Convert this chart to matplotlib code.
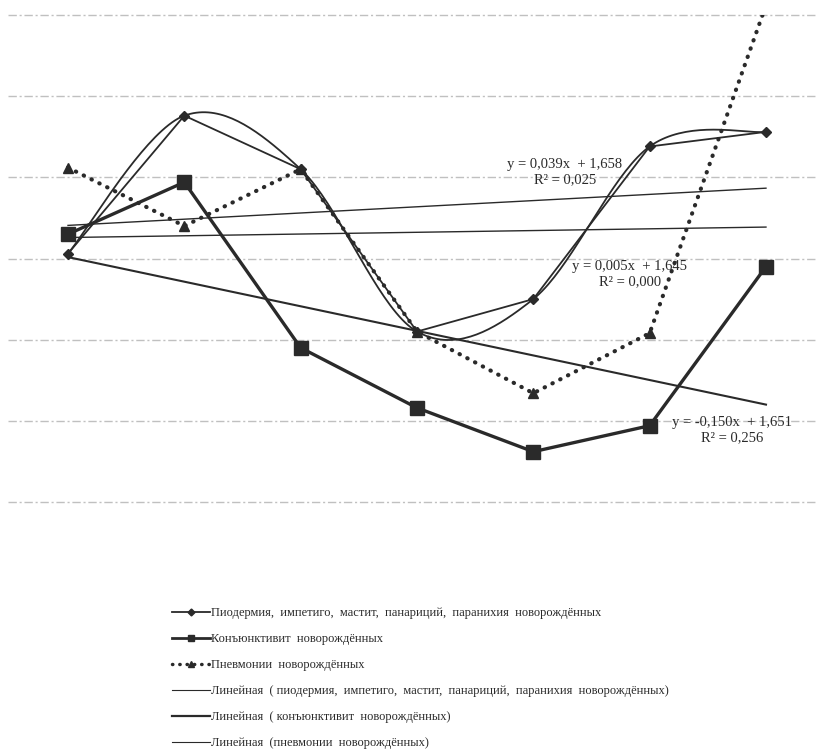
import numpy as np
import matplotlib
matplotlib.use("Agg")
import matplotlib.pyplot as plt
from matplotlib.lines import Line2D

plt.rcParams['font.family'] = ['Liberation Serif', 'DejaVu Serif']

# ---- data ----
periods = [1, 2, 3, 4, 5, 6, 7]
pyoderma = [1.53, 2.38, 2.05, 1.05, 1.25, 2.19, 2.28]
conjunctivitis = [1.65, 1.97, 0.95, 0.58, 0.31, 0.47, 1.45]
pneumonia = [2.06, 1.70, 2.05, 1.05, 0.67, 1.04, 3.06]
grid_values = [0.0, 0.5, 1.0, 1.5, 2.0, 2.5, 3.0]

labels = [
    "Пиодермия,  импетиго,  мастит,  панариций,  паранихия  новорождённых",
    "Конъюнктивит  новорождённых",
    "Пневмонии  новорождённых",
    "Линейная  ( пиодермия,  импетиго,  мастит,  панариций,  паранихия  новорождённых)",
    "Линейная  ( конъюнктивит  новорождённых)",
    "Линейная  (пневмонии  новорождённых)",
]
eq_pyoderma = "y = 0,039x  + 1,658\nR² = 0,025"
eq_pneumonia = "y = 0,005x  + 1,645\nR² = 0,000"
eq_conjunct = "y = -0,150x  + 1,651\nR² = 0,256"

C = "#2a2a2a"


def catmull(xs, ys, n=40):
    pts = np.column_stack([xs, ys]).astype(float)
    out = []
    for i in range(len(pts) - 1):
        p0 = pts[i - 1] if i > 0 else pts[i]
        p1 = pts[i]
        p2 = pts[i + 1]
        p3 = pts[i + 2] if i + 2 < len(pts) else pts[i + 1]
        b1 = p1 + (p2 - p0) / 6.0
        b2 = p2 - (p3 - p1) / 6.0
        t = np.linspace(0, 1, n)[:, None]
        seg = ((1 - t) ** 3) * p1 + 3 * ((1 - t) ** 2) * t * b1 + 3 * (1 - t) * t ** 2 * b2 + t ** 3 * p2
        out.append(seg if i == 0 else seg[1:])
    seg = np.vstack(out)
    return seg[:, 0], seg[:, 1]


fig = plt.figure(figsize=(8.18, 7.55), dpi=100)
ax = fig.add_axes([8 / 818, 1 - 502 / 755, 810 / 818, 487 / 755])
ax.set_xlim(1 - 60 / 116.33, 1 + 750 / 116.33)
ax.set_ylim(0, 3.0)
ax.axis('off')

for g in grid_values:
    ax.axhline(g, color="#c0c0c0", lw=1.0, linestyle=(0, (6, 2, 1.5, 2)), clip_on=False, zorder=0)

x = np.array(periods, dtype=float)

# trend lines
for ys, lw in [(pyoderma, 1.0), (conjunctivitis, 1.5), (pneumonia, 1.0)]:
    k, b = np.polyfit(x, ys, 1)
    ax.plot([x[0], x[-1]], [k * x[0] + b, k * x[-1] + b], color=C, lw=lw, zorder=2)

# pyoderma smooth + straight
sx, sy = catmull(x, pyoderma)
ax.plot(sx, sy, color=C, lw=1.3, zorder=3)
ax.plot(x, pyoderma, color=C, lw=1.3, marker='D', ms=5, zorder=4)

# conjunctivitis
ax.plot(x, conjunctivitis, color=C, lw=2.4, marker='s', ms=9.5, zorder=4)

# pneumonia dotted
ax.plot(x, pneumonia, color=C, lw=3.0, linestyle=(0, (0.1, 2.0)), dash_capstyle='round',
        marker='^', ms=7, zorder=4)

# equations
ax.text(1 + 497 / 116.33, 3 - 157 / 162.3, eq_pyoderma, ha='center', va='center', fontsize=10.5,
        color=C, linespacing=1.15, zorder=5)
ax.text(1 + 562 / 116.33, 3 - 259 / 162.3, eq_pneumonia, ha='center', va='center', fontsize=10.5,
        color=C, linespacing=1.15, zorder=5)
ax.text(1 + 664 / 116.33, 3 - 415 / 162.3, eq_conjunct, ha='center', va='center', fontsize=10.5,
        color=C, linespacing=1.15, zorder=5)

handles = [
    Line2D([], [], color=C, lw=1.3, marker='D', ms=3.5),
    Line2D([], [], color=C, lw=2.0, marker='s', ms=5),
    Line2D([], [], color=C, lw=2.5, linestyle=(0, (0.1, 2.0)), dash_capstyle='round', marker='^', ms=5),
    Line2D([], [], color=C, lw=0.8),
    Line2D([], [], color=C, lw=1.6),
    Line2D([], [], color=C, lw=0.8),
]
fig.legend(handles, labels, loc='upper left', bbox_to_anchor=(172 / 818, 1 - 607 / 755),
           frameon=False, fontsize=9, handlelength=3.0, handletextpad=0.15,
           labelspacing=1.12, borderaxespad=0, borderpad=0, labelcolor=C)

fig.savefig("out.png", dpi=100, facecolor='white')
